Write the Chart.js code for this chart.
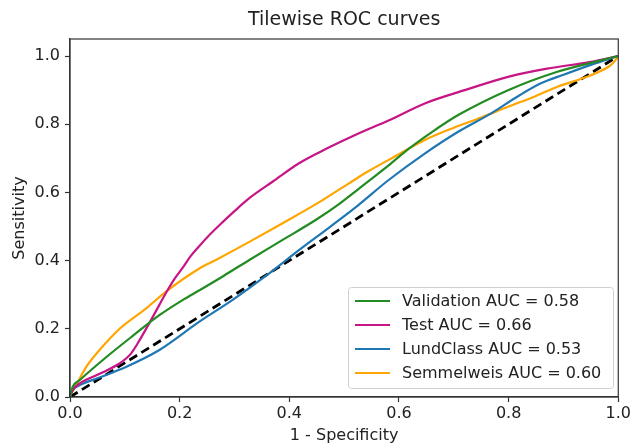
<!DOCTYPE html>
<html>
<head>
<meta charset="utf-8">
<script src="https://cdn.jsdelivr.net/npm/chart.js@4.4.0/dist/chart.umd.min.js"></script>
<style>
  html, body { margin: 0; padding: 0; background: #fff; }
  #wrap { width: 633px; height: 445px; position: relative; }
</style>
</head>
<body>
<div id="wrap"><canvas id="roc"></canvas></div>
<script>
// データ (読み取り値)
const TITLE = 'Tilewise ROC curves';
const X_LABEL = '1 - Specificity';
const Y_LABEL = 'Sensitivity';
const TICKS = [0, 0.2, 0.4, 0.6, 0.8, 1.0];

const valFpr = [0, 0.005, 0.018, 0.067, 0.115, 0.163, 0.206, 0.236, 0.28, 0.327, 0.387, 0.448, 0.49, 0.526, 0.58, 0.617, 0.66, 0.708, 0.799, 0.889, 0.95, 1];
const valTpr = [0, 0.03, 0.05, 0.118, 0.18, 0.24, 0.285, 0.313, 0.355, 0.402, 0.46, 0.519, 0.565, 0.61, 0.678, 0.727, 0.777, 0.827, 0.9, 0.954, 0.98, 1];

const testFpr = [0, 0.005, 0.018, 0.05, 0.091, 0.11, 0.127, 0.151, 0.175, 0.19, 0.206, 0.22, 0.236, 0.25, 0.27, 0.3, 0.327, 0.37, 0.417, 0.47, 0.526, 0.58, 0.647, 0.72, 0.799, 0.87, 0.95, 1];
const testTpr = [0, 0.02, 0.04, 0.065, 0.099, 0.125, 0.167, 0.235, 0.305, 0.345, 0.38, 0.413, 0.443, 0.468, 0.5, 0.545, 0.583, 0.632, 0.685, 0.73, 0.773, 0.81, 0.861, 0.9, 0.939, 0.963, 0.983, 1];

const lundFpr = [0, 0.005, 0.018, 0.05, 0.103, 0.163, 0.236, 0.296, 0.357, 0.417, 0.475, 0.526, 0.58, 0.647, 0.708, 0.768, 0.82, 0.859, 0.9, 0.95, 1];
const lundTpr = [0, 0.02, 0.035, 0.055, 0.089, 0.138, 0.221, 0.284, 0.355, 0.43, 0.5, 0.563, 0.635, 0.714, 0.778, 0.832, 0.885, 0.92, 0.945, 0.974, 1];

const semFpr = [0, 0.002, 0.006, 0.03, 0.054, 0.091, 0.139, 0.175, 0.236, 0.266, 0.327, 0.387, 0.45, 0.508, 0.544, 0.6, 0.647, 0.7, 0.75, 0.8, 0.85, 0.889, 0.93, 0.962, 0.985, 0.995, 1];
const semTpr = [0, 0.01, 0.02, 0.089, 0.138, 0.201, 0.26, 0.309, 0.377, 0.402, 0.455, 0.509, 0.567, 0.626, 0.662, 0.712, 0.754, 0.79, 0.82, 0.852, 0.883, 0.91, 0.932, 0.952, 0.972, 0.988, 1];

const chanceFpr = [0, 1];
const chanceTpr = [0, 1];

const SERIES = [
    { label: 'Validation AUC = 0.58', fpr: valFpr, tpr: valTpr, color: '#228b22' },
    { label: 'Test AUC = 0.66', fpr: testFpr, tpr: testTpr, color: '#c71585' },
    { label: 'LundClass AUC = 0.53', fpr: lundFpr, tpr: lundTpr, color: '#1f77b4' },
    { label: 'Semmelweis AUC = 0.60', fpr: semFpr, tpr: semTpr, color: '#ffa500' }
];

const FONT = 'DejaVu Sans';
const TXT = '#222';
const AX = '#333';

function pts(xs, ys) { return xs.map((x, i) => ({ x: x, y: ys[i] })); }

// 枠・タイトル・凡例
const decor = {
    id: 'decor',
    afterDatasetsDraw(chart) {
        const { ctx, chartArea: a } = chart;
        ctx.save();
        ctx.strokeStyle = AX;
        ctx.lineWidth = 1.2;
        ctx.strokeRect(a.left, a.top, a.right - a.left, a.bottom - a.top);

        ctx.fillStyle = TXT;
        ctx.font = '19px "' + FONT + '"';
        ctx.textAlign = 'center';
        ctx.textBaseline = 'middle';
        ctx.fillText(TITLE, (a.left + a.right) / 2, 20);

        // legend
        const bx = 348, by = 287, bw = 265, bh = 101;
        ctx.fillStyle = 'rgba(255,255,255,0.8)';
        ctx.strokeStyle = '#d0d0d0';
        ctx.lineWidth = 1;
        ctx.beginPath();
        ctx.roundRect(bx + 0.5, by + 0.5, bw, bh, 3);
        ctx.fill();
        ctx.stroke();
        ctx.font = '16px "' + FONT + '"';
        ctx.textAlign = 'left';
        SERIES.forEach((s, i) => {
            const y = by + 14 + i * 24;
            ctx.strokeStyle = s.color;
            ctx.lineWidth = 2;
            ctx.beginPath();
            ctx.moveTo(355, y);
            ctx.lineTo(390, y);
            ctx.stroke();
            ctx.fillStyle = TXT;
            ctx.fillText(s.label, 402, y + 1);
        });
        ctx.restore();
    }
};

const datasets = SERIES.map(s => ({
    label: s.label,
    data: pts(s.fpr, s.tpr),
    borderColor: s.color,
    borderWidth: 2.2,
    pointRadius: 0,
    cubicInterpolationMode: 'monotone',
    fill: false
}));
datasets.push({
    label: 'chance',
    data: pts(chanceFpr, chanceTpr),
    borderColor: '#000',
    borderWidth: 2.8,
    borderDash: [9, 5],
    pointRadius: 0,
    fill: false
});

const tickFont = { family: FONT, size: 16 };

new Chart(document.getElementById('roc'), {
    type: 'line',
    data: { datasets: datasets },
    options: {
        responsive: true,
        maintainAspectRatio: false,
        animation: false,
        layout: { padding: { top: 39, right: 12, left: 0, bottom: 0 } },
        plugins: { legend: { display: false }, tooltip: { enabled: false } },
        scales: {
            x: {
                type: 'linear', min: 0, max: 1,
                afterBuildTicks: sc => { sc.ticks = TICKS.map(v => ({ value: v })); },
                afterFit: sc => { sc.height = 48; },
                grid: { display: true, drawOnChartArea: false, drawTicks: true, tickLength: 5, color: AX, tickWidth: 1.2 },
                border: { display: true, color: AX, width: 1.2 },
                ticks: { color: TXT, font: tickFont, padding: 2, maxRotation: 0, callback: v => v.toFixed(1) },
                title: { display: true, text: X_LABEL, color: TXT, font: { family: FONT, size: 16 }, padding: { top: 0, bottom: 0 } }
            },
            y: {
                type: 'linear', min: 0, max: 1.05,
                afterBuildTicks: sc => { sc.ticks = TICKS.map(v => ({ value: v })); },
                afterFit: sc => { sc.width = 70; },
                grid: { display: true, drawOnChartArea: false, drawTicks: true, tickLength: 5, color: AX, tickWidth: 1.2 },
                border: { display: true, color: AX, width: 1.2 },
                ticks: { color: TXT, font: tickFont, padding: 5, callback: v => v.toFixed(1) },
                title: { display: true, text: Y_LABEL, color: TXT, font: { family: FONT, size: 16 }, padding: { top: 10, bottom: 0 } }
            }
        }
    },
    plugins: [decor]
});
</script>
</body>
</html>
